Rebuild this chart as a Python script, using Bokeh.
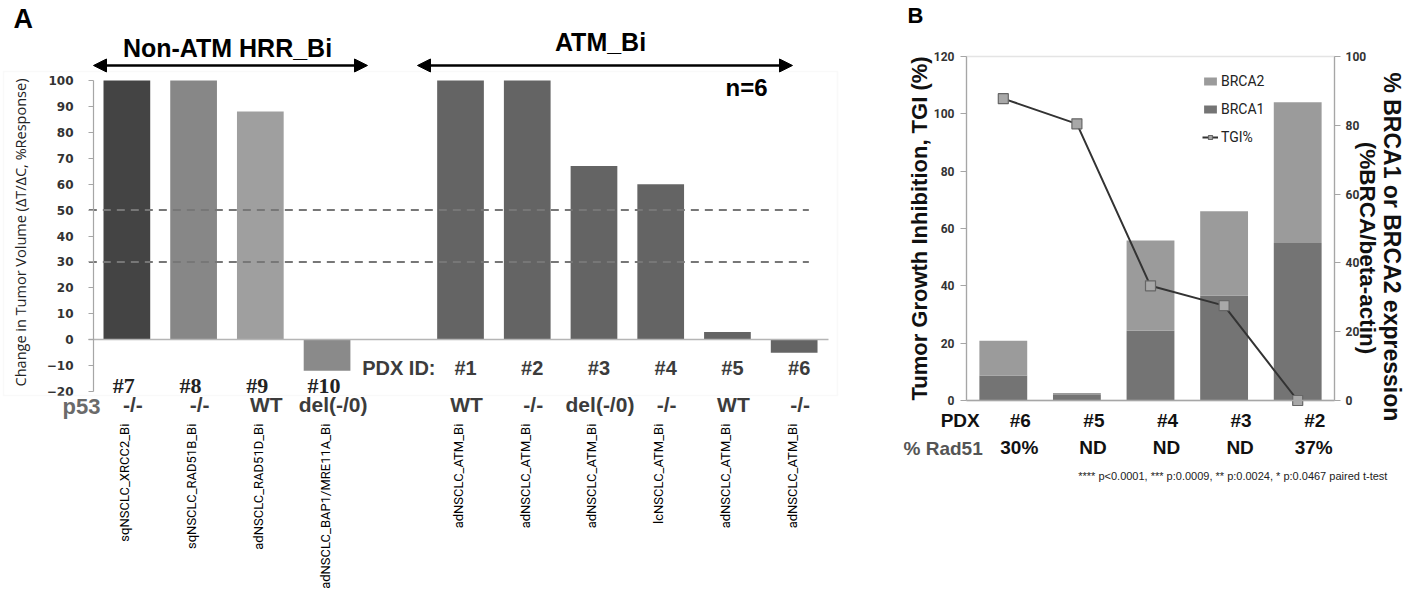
import math
from bokeh.plotting import figure
from bokeh.models import (Range1d, LinearAxis, FixedTicker, Label, LabelSet, BoxAnnotation,
                          ColumnDataSource, Arrow, NormalHead, Legend, LegendItem)
from bokeh.layouts import row
from bokeh.core.properties import value
from bokeh.embed import file_html
from bokeh.resources import INLINE

# ---------------- Panel A data ----------------
nonatm_ids = ["#7", "#8", "#9", "#10"]
nonatm_values = [100, 100, 88, -12]
nonatm_p53 = ["-/-", "-/-", "WT", "del(-/0)"]
nonatm_models = ["sqNSCLC_XRCC2_Bi", "sqNSCLC_RAD51B_Bi", "adNSCLC_RAD51D_Bi",
                 "adNSCLC_BAP1/MRE11A_Bi"]
nonatm_colors = ["#444444", "#878787", "#9f9f9f", "#8a8a8a"]
nonatm_x = [0, 1, 2, 3]

atm_ids = ["#1", "#2", "#3", "#4", "#5", "#6"]
atm_values = [100, 100, 67, 60, 3, -5]
atm_p53 = ["WT", "-/-", "del(-/0)", "-/-", "WT", "-/-"]
atm_models = ["adNSCLC_ATM_Bi", "adNSCLC_ATM_Bi", "adNSCLC_ATM_Bi", "lcNSCLC_ATM_Bi",
              "adNSCLC_ATM_Bi", "adNSCLC_ATM_Bi"]
atm_colors = ["#646464"] * 6
atm_x = [5, 6, 7, 8, 9, 10]

response_thresholds = [50, 30]
a_ticks = list(range(-20, 101, 10))

# ---------------- Panel B data ----------------
b_ids = ["#6", "#5", "#4", "#3", "#2"]
b_rad51 = ["30%", "ND", "ND", "ND", "37%"]
b_x = [0, 1, 2, 3, 4]
brca1 = [7.3, 1.6, 20.3, 30.5, 45.8]
brca2 = [10.1, 0.6, 26.2, 24.5, 40.9]
tgi = [105.3, 96.5, 40.0, 33.1, 0.0]
b_left_ticks = [0, 20, 40, 60, 80, 100, 120]
b_right_ticks = [0, 20, 40, 60, 80, 100]

AX = "#a6a6a6"


def style_axis(ax, font, size, standoff, tick_out):
    ax.axis_line_color = AX
    ax.axis_line_width = 1.2
    ax.major_tick_line_color = AX
    ax.major_tick_out = tick_out
    ax.major_tick_in = 0
    ax.minor_tick_line_color = None
    ax.major_label_text_font = font
    ax.major_label_text_font_style = "bold"
    ax.major_label_text_font_size = size
    ax.major_label_text_color = "#333333"
    ax.major_label_standoff = standoff


# =============== Panel A ===============
pA = figure(width=878, height=595, x_range=Range1d(-1.8937, 11.2638),
            y_range=Range1d(-98.71, 130.868), output_backend="svg", toolbar_location=None,
            x_axis_location=None, y_axis_location=None, min_border=0)
pA.outline_line_color = None
pA.grid.visible = False

# faint chart-area border
pA.add_layout(BoxAnnotation(left=-1.849, right=10.649, bottom=-21.54, top=103.47,
                            fill_alpha=0, line_color="#ececec", line_width=1.5))

ya = LinearAxis(fixed_location=-0.5, bounds=(-20, 100), ticker=FixedTicker(ticks=a_ticks))
style_axis(ya, "DejaVu Sans", "12px", 15, 5)
pA.add_layout(ya, "left")

xa = LinearAxis(fixed_location=0, bounds=(-0.57, 10.52), ticker=FixedTicker(ticks=[]))
xa.axis_line_color = "#b5b5b5"
xa.axis_line_width = 1.5
xa.major_tick_line_color = None
xa.minor_tick_line_color = None
xa.major_label_text_font_size = "0px"
pA.add_layout(xa, "below")

srcA1 = ColumnDataSource(dict(x=nonatm_x, top=nonatm_values, color=nonatm_colors,
                              ids=nonatm_ids, p53=nonatm_p53, model=nonatm_models))
srcA2 = ColumnDataSource(dict(x=atm_x, top=atm_values, color=atm_colors,
                              ids=atm_ids, p53=atm_p53, model=atm_models))

pA.vbar(x="x", top="top", bottom=0, width=0.7, fill_color="color", line_color=None, source=srcA1)
pA.vbar(x="x", top="top", bottom=0, width=0.7, fill_color="color", line_color=None, source=srcA2)
pA.segment(x0=-0.57, x1=10.22, y0=response_thresholds, y1=response_thresholds,
           line_color="#777777", line_width=2, line_dash="8 6")

pA.add_layout(Label(x=-1.594, y=41.35, text="Change in Tumor Volume (\u0394T/\u0394C, %Response)",
                    angle=math.pi / 2, text_align="center", text_baseline="middle",
                    text_font="Open Sans", text_font_size="14.5px", text_color="#222222"))

# group headers and arrows
for (xs, xe) in [(-0.5, 3.606), (4.355, 9.975)]:
    pA.add_layout(Arrow(start=NormalHead(size=13, fill_color="black", line_color="black"),
                        end=NormalHead(size=13, fill_color="black", line_color="black"),
                        x_start=xs, y_start=105.8, x_end=xe, y_end=105.8,
                        line_color="black", line_width=2.5))
pA.add_layout(Label(x=1.508, y=112.7, text="Non-ATM HRR_Bi", text_align="center",
                    text_baseline="middle", text_font="Liberation Sans", text_font_style="bold",
                    text_font_size="25px", text_color="black"))
pA.add_layout(Label(x=7.098, y=114.7, text="ATM_Bi", text_align="center",
                    text_baseline="middle", text_font="Liberation Sans", text_font_style="bold",
                    text_font_size="25px", text_color="black"))
pA.add_layout(Label(x=9.286, y=97.3, text="n=6", text_align="center",
                    text_baseline="middle", text_font="Liberation Sans", text_font_style="bold",
                    text_font_size="24px", text_color="black"))
pA.add_layout(Label(x=-1.70, y=123.9, text="A", text_align="left",
                    text_baseline="middle", text_font="Liberation Sans", text_font_style="bold",
                    text_font_size="27px", text_color="black"))

# PDX id rows
pA.add_layout(LabelSet(x="x", y=-17.8, text="ids", source=srcA1, x_offset=-3,
                       text_align="center", text_baseline="middle",
                       text_font=value("Liberation Serif"), text_font_style=value("bold"),
                       text_font_size=value("22px"), text_color="#222222"))
pA.add_layout(LabelSet(x="x", y=-10.8, text="ids", source=srcA2, x_offset=5,
                       text_align="center", text_baseline="middle",
                       text_font=value("Liberation Sans"), text_font_style=value("bold"),
                       text_font_size=value("20px"), text_color="#3c3c3c"))
pA.add_layout(Label(x=4.625, y=-10.8, text="PDX ID:", text_align="right",
                    text_baseline="middle", text_font="Liberation Sans", text_font_style="bold",
                    text_font_size="20px", text_color="#3c3c3c"))

# p53 rows
for src in (srcA1, srcA2):
    pA.add_layout(LabelSet(x="x", y=-25.1, text="p53", source=src, x_offset=6,
                           text_align="center", text_baseline="middle",
                           text_font=value("Liberation Sans"), text_font_style=value("bold"),
                           text_font_size=value("21px"), text_color="#3c3c3c"))
pA.add_layout(Label(x=-0.395, y=-25.8, text="p53", text_align="right",
                    text_baseline="middle", text_font="Liberation Sans", text_font_style="bold",
                    text_font_size="22px", text_color="#6a6a6a"))

# model names (vertical)
for src in (srcA1, srcA2):
    pA.add_layout(LabelSet(x="x", y=-32.4, text="model", source=src, x_offset=-2,
                           angle=math.pi / 2, text_align="right", text_baseline="middle",
                           text_font=value("Roboto"), text_font_size=value("13px"),
                           text_color="#000000"))

# =============== Panel B ===============
pB = figure(width=539, height=595, x_range=Range1d(-1.6957, 5.6277),
            y_range=Range1d(-68.02, 139.53), output_backend="svg", toolbar_location=None,
            x_axis_location=None, y_axis_location=None, min_border=0)
pB.extra_y_ranges = {"expr": Range1d(-56.68, 116.28)}
pB.outline_line_color = None
pB.grid.visible = False

la = LinearAxis(fixed_location=-0.5, bounds=(0, 120), ticker=FixedTicker(ticks=b_left_ticks))
style_axis(la, "Roboto", "12px", 6, 6)
pB.add_layout(la, "left")

ra = LinearAxis(y_range_name="expr", fixed_location=4.5, bounds=(0, 100),
                ticker=FixedTicker(ticks=b_right_ticks))
style_axis(ra, "Roboto", "12px", 5, 6)
pB.add_layout(ra, "right")

xb = LinearAxis(fixed_location=0, bounds=(-0.5, 4.5), ticker=FixedTicker(ticks=[]))
xb.axis_line_color = AX
xb.axis_line_width = 1.5
xb.major_tick_line_color = None
xb.minor_tick_line_color = None
xb.major_label_text_font_size = "0px"
pB.add_layout(xb, "below")

pB.add_layout(BoxAnnotation(left=-0.5, right=4.5, bottom=0, top=120, fill_alpha=0,
                            line_color=AX, line_width=1.5))

srcB = ColumnDataSource(dict(x=b_x, brca1=brca1, brca2=brca2, tgi=tgi, ids=b_ids, rad51=b_rad51))
bars = pB.vbar_stack(["brca1", "brca2"], x="x", width=0.65, color=["#747474", "#9b9b9b"],
                     line_color=None, source=srcB, y_range_name="expr")
r_line = pB.line(x="x", y="tgi", line_color="#333333", line_width=2, source=srcB)
r_pts = pB.scatter(x="x", y="tgi", marker="square", size=10, fill_color="#a8a8a8",
                   line_color="#666666", line_width=1.2, source=srcB)

legend = Legend(items=[LegendItem(label="BRCA2", renderers=[bars[1]]),
                       LegendItem(label="BRCA1", renderers=[bars[0]]),
                       LegendItem(label="TGI%", renderers=[r_line, r_pts])],
                location=(324, 448), border_line_color=None, background_fill_alpha=0,
                padding=4, margin=0, spacing=8, label_height=20, glyph_height=10,
                glyph_width=16, label_standoff=3, label_text_font="Roboto",
                label_text_font_size="14px", label_text_color="#222222")
pB.add_layout(legend)

pB.add_layout(Label(x=-1.139, y=60.0, text="Tumor Growth Inhibition, TGI (%)",
                    angle=math.pi / 2, text_align="center", text_baseline="middle",
                    text_font="Liberation Sans", text_font_style="bold",
                    text_font_size="22px", text_color="#111111"))
pB.add_layout(Label(x=5.288, y=53.6, text="% BRCA1 or BRCA2 expression", angle=-math.pi / 2,
                    text_align="center", text_baseline="middle", text_font="Liberation Sans",
                    text_font_style="bold", text_font_size="23px", text_color="#111111"))
pB.add_layout(Label(x=4.948, y=53.2, text="(%BRCA/beta-actin)", angle=-math.pi / 2,
                    text_align="center", text_baseline="middle", text_font="Liberation Sans",
                    text_font_style="bold", text_font_size="22.5px", text_color="#111111"))

pB.add_layout(Label(x=-0.32, y=-7.0, text="PDX", text_align="right", text_baseline="middle",
                    text_font="Liberation Sans", text_font_style="bold",
                    text_font_size="19px", text_color="#111111"))
pB.add_layout(LabelSet(x="x", y=-7.0, text="ids", source=srcB, x_offset=17,
                       text_align="center", text_baseline="middle",
                       text_font=value("Liberation Sans"), text_font_style=value("bold"),
                       text_font_size=value("19px"), text_color="#111111"))
pB.add_layout(Label(x=-0.28, y=-16.9, text="% Rad51", text_align="right", text_baseline="middle",
                    text_font="Liberation Sans", text_font_style="bold",
                    text_font_size="19px", text_color="#555555"))
pB.add_layout(LabelSet(x="x", y=-16.5, text="rad51", source=srcB, x_offset=16,
                       text_align="center", text_baseline="middle",
                       text_font=value("Liberation Sans"), text_font_style=value("bold"),
                       text_font_size=value("19px"), text_color="#111111"))
pB.add_layout(Label(x=5.26, y=-26.5,
                    text="**** p<0.0001, *** p:0.0009, ** p:0.0024, * p:0.0467  paired t-test",
                    text_align="right", text_baseline="middle", text_font="Liberation Sans",
                    text_font_size="11px", text_color="#222222"))
pB.add_layout(Label(x=-1.30, y=134.2, text="B", text_align="left", text_baseline="middle",
                    text_font="Liberation Sans", text_font_style="bold",
                    text_font_size="22px", text_color="black"))

layout = row(pA, pB)
open("out.html", "w").write(file_html(layout, INLINE))
